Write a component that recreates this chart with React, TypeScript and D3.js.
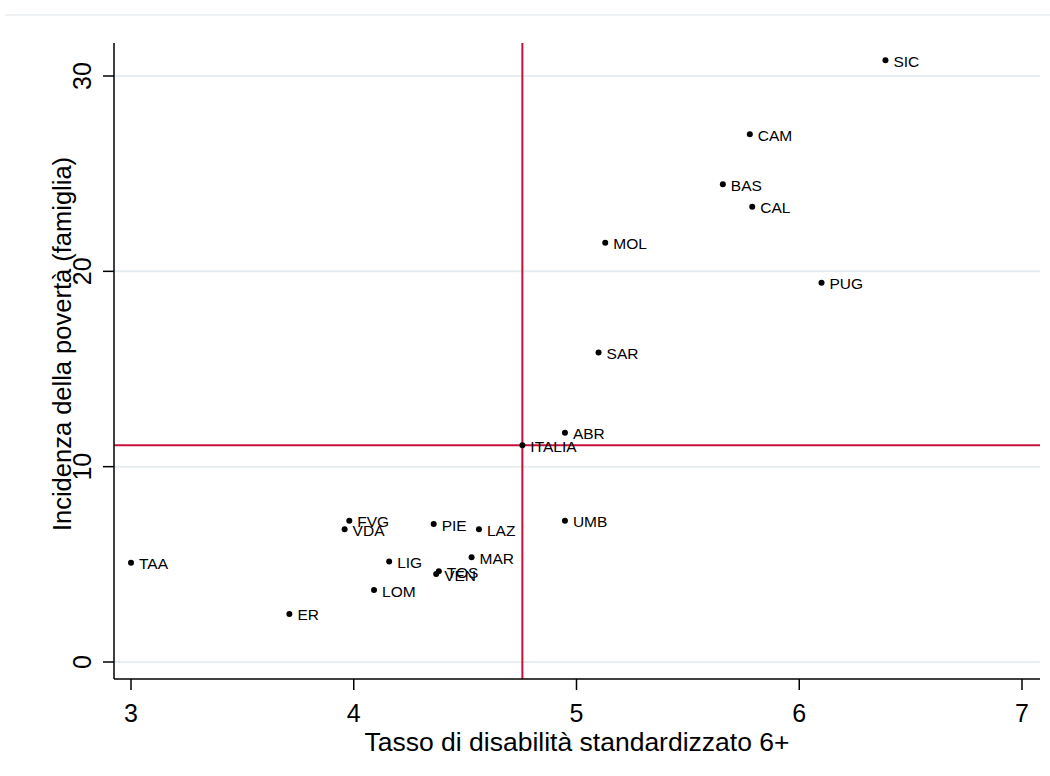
import React from "react";
import * as d3 from "d3";

const regions = ["SIC", "CAM", "BAS", "CAL", "PUG", "MOL", "SAR", "ITALIA", "ABR", "UMB", "TAA", "ER", "FVG", "VDA", "PIE", "LAZ", "LIG", "MAR", "TOS", "VEN", "LOM"];
const disability = [6.387, 5.778, 5.657, 5.789, 6.10, 5.129, 5.099, 4.757, 4.948, 4.948, 3.0, 3.711, 3.98, 3.959, 4.359, 4.562, 4.159, 4.529, 4.382, 4.37, 4.091];
const poverty = [30.81, 27.02, 24.46, 23.30, 19.41, 21.46, 15.85, 11.1, 11.73, 7.23, 5.08, 2.46, 7.23, 6.79, 7.06, 6.79, 5.15, 5.36, 4.64, 4.50, 3.68];
const xTicks = [3, 4, 5, 6, 7];
const yTicks = [0, 10, 20, 30];
const refX = 4.757;
const refY = 11.1;

export default function App() {
  const W = 1050, H = 776;
  const left = 114, right = 1040, top = 43, bottom = 679;
  const x = d3.scaleLinear().domain([3, 7]).range([131, 1022]);
  const y = d3.scaleLinear().domain([0, 30]).range([662, 76]);
  const font = "'Liberation Sans', Arial, sans-serif";
  const red = "#c8103c";
  const grid = "#e6eef1";

  return (
    <svg width={W} height={H} style={{ position: "absolute", left: 0, top: 0, background: "#fff" }} fontFamily={font}>
      <rect x={0} y={0} width={W} height={H} fill="#fff" />
      <line x1={5} x2={W} y1={15} y2={15} stroke="#e8eef0" strokeWidth={1.5} />
      {yTicks.map((t) => (
        <line key={"g" + t} x1={left} x2={right} y1={y(t)} y2={y(t)} stroke={grid} strokeWidth={2} />
      ))}
      {/* reference lines */}
      <line x1={x(refX)} x2={x(refX)} y1={top} y2={bottom} stroke={red} strokeWidth={2} />
      <line x1={left} x2={right} y1={y(refY)} y2={y(refY)} stroke={red} strokeWidth={2} />
      {/* axes */}
      <line x1={left} x2={left} y1={top} y2={bottom} stroke="#000" strokeWidth={1.5} />
      <line x1={left} x2={right} y1={bottom} y2={bottom} stroke="#000" strokeWidth={1.5} />
      {xTicks.map((t) => (
        <g key={"x" + t}>
          <line x1={x(t)} x2={x(t)} y1={bottom} y2={bottom + 11} stroke="#000" strokeWidth={1.5} />
          <text x={x(t)} y={722} textAnchor="middle" fontSize={25} fill="#000">{t}</text>
        </g>
      ))}
      {yTicks.map((t) => (
        <g key={"y" + t}>
          <line x1={left - 11} x2={left} y1={y(t)} y2={y(t)} stroke="#000" strokeWidth={1.5} />
          <text transform={`translate(91,${y(t)}) rotate(-90)`} textAnchor="middle" fontSize={25} fill="#000">{t}</text>
        </g>
      ))}
      <text x={577} y={751} textAnchor="middle" fontSize={26.5} fill="#000">Tasso di disabilità standardizzato 6+</text>
      <text transform={`translate(71,344) rotate(-90)`} textAnchor="middle" fontSize={25.5} fill="#000">Incidenza della povertà (famiglia)</text>
      {regions.map((r, i) => (
        <g key={r}>
          <circle cx={x(disability[i])} cy={y(poverty[i])} r={3} fill="#000" />
          <text x={x(disability[i]) + 8} y={y(poverty[i]) + 6.5} fontSize={15.5} fill="#000">{r}</text>
        </g>
      ))}
    </svg>
  );
}
